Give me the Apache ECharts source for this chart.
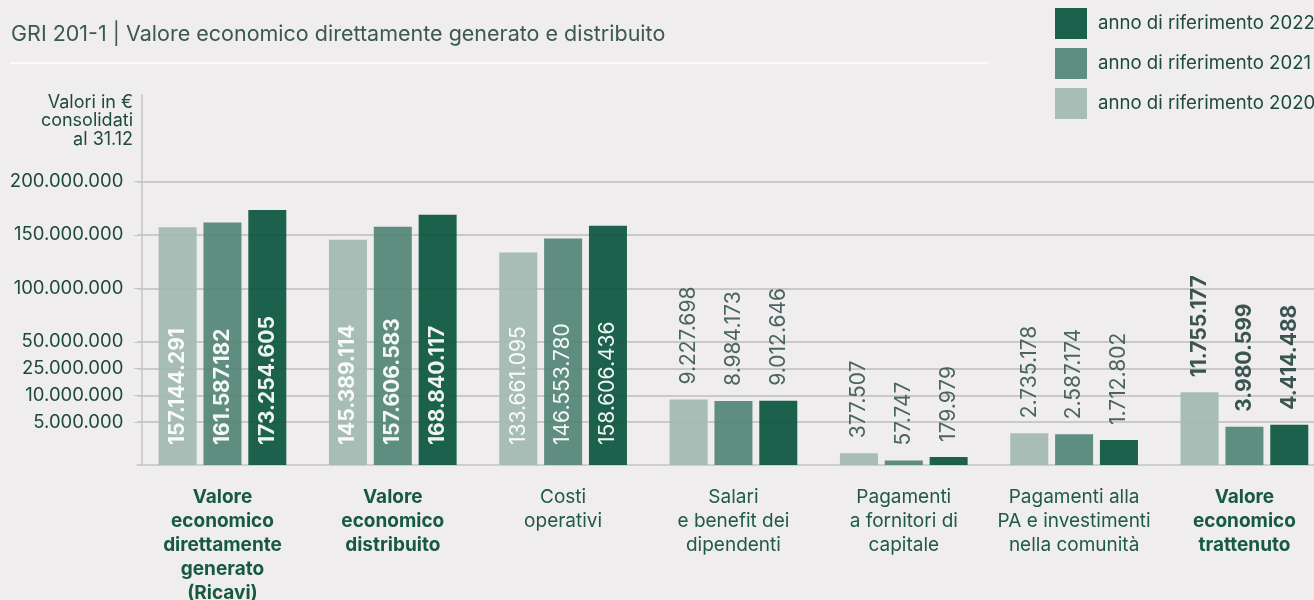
<!DOCTYPE html>
<html lang="it">
<head>
    <meta charset="UTF-8">
    <title>GRI 201-1</title>
    <script type="text/javascript" src="https://cdn.jsdelivr.net/npm/echarts@6/dist/echarts.min.js"></script>
    <style>
        html, body { margin: 0; padding: 0; background: #efedee; }
    </style>
</head>
<body>
<div id="chart" style="width: 1314px;height: 600px"></div>
<script type="text/javascript">
    // dati
    var categories = [
        'Valore\neconomico\ndirettamente\ngenerato\n(Ricavi)',
        'Valore\neconomico\ndistribuito',
        'Costi\noperativi',
        'Salari\ne benefit dei\ndipendenti',
        'Pagamenti\na fornitori di\ncapitale',
        'Pagamenti alla\nPA e investimenti\nnella comunità',
        'Valore\neconomico\ntrattenuto'
    ];
    var boldCategories = [0, 1, 6];
    var years = ['anno di riferimento 2020', 'anno di riferimento 2021', 'anno di riferimento 2022'];
    var values2020 = [157144291, 145389114, 133661095, 9227698, 377507, 2735178, 11755177];
    var values2021 = [161587182, 157606583, 146553780, 8984173, 57747, 2587174, 3980599];
    var values2022 = [173254605, 168840117, 158606436, 9012646, 179979, 1712802, 4414488];
    var tickValues = [5000000, 10000000, 25000000, 50000000, 100000000, 150000000, 200000000];

    // scala a tratti del grafico originale (posizione delle tacche, in "gradini")
    var tickSlots = [1.6, 2.6, 3.6, 4.6, 6.6, 8.6, 10.6];
    function toSlot(v) {
        if (v <= tickValues[0]) return tickSlots[0] * Math.sqrt(v / tickValues[0]);
        for (var i = 1; i < tickValues.length; i++) {
            if (v <= tickValues[i] || i === tickValues.length - 1) {
                var t = (v - tickValues[i - 1]) / (tickValues[i] - tickValues[i - 1]);
                return tickSlots[i - 1] + t * (tickSlots[i] - tickSlots[i - 1]);
            }
        }
    }
    function fmt(n) {
        return String(n).replace(/\B(?=(\d{3})+(?!\d))/g, '.');
    }

    var allValues = [values2020, values2021, values2022];
    var colors = ['#a3b9b1', '#548777', '#0b563f'];

    function labelFor(catIdx) {
        var bold = boldCategories.indexOf(catIdx) >= 0;
        if (catIdx <= 2) {
            return {
                show: true, position: 'insideBottom', distance: 20, rotate: 90,
                align: 'left', verticalAlign: 'middle', color: '#ffffff',
                fontFamily: 'Inter', fontSize: 21,
                fontWeight: bold ? 'bold' : 'normal'
            };
        }
        return {
            show: true, position: 'top', distance: 15, rotate: 90,
            align: 'left', verticalAlign: 'middle',
            color: bold ? '#2c4944' : '#3d5a56',
            fontFamily: 'Inter', fontSize: 21,
            fontWeight: bold ? 'bold' : 'normal'
        };
    }

    var series = [];
    for (var s = 0; s < 3; s++) {
        var data = [];
        for (var c = 0; c < categories.length; c++) {
            data.push({ value: toSlot(allValues[s][c]), label: labelFor(c) });
        }
        series.push({
            name: years[s],
            type: 'bar',
            barWidth: 38,
            barGap: '18%',
            itemStyle: { color: colors[s], opacity: 0.93 },
            label: {
                formatter: function (p) {
                    return fmt(allValues[p.seriesIndex][p.dataIndex]);
                }
            },
            data: data
        });
    }

    var chartDom = document.getElementById('chart');
    var myChart = echarts.init(chartDom);
    var option = {
        backgroundColor: '#efedee',
        animation: false,
        textStyle: { fontFamily: 'Inter' },
        color: colors,
        graphic: [
            {
                type: 'text', left: 11, top: 24,
                style: {
                    text: 'GRI 201-1 | Valore economico direttamente generato e distribuito',
                    fill: '#3b5853', font: '21.5px Inter'
                }
            },
            {
                type: 'line',
                shape: { x1: 10, y1: 63, x2: 988, y2: 63 },
                style: { stroke: '#fbfafa', lineWidth: 2 }
            },
            {
                type: 'text', x: 133, y: 93,
                style: {
                    text: 'Valori in €\nconsolidati\nal 31.12',
                    fill: '#1d4a3c', font: '18px Inter', align: 'right', lineHeight: 18.5
                }
            }
        ],
        legend: {
            orient: 'vertical',
            left: 1050,
            top: 3,
            itemWidth: 32,
            itemHeight: 31,
            itemGap: 9,
            icon: 'rect',
            data: [years[2], years[1], years[0]],
            itemStyle: { opacity: 0.93 },
            textStyle: { color: '#1d4a3c', fontSize: 18.6, fontFamily: 'Inter', padding: [0, 0, 0, 6] }
        },
        grid: {
            left: 137.3,
            right: -15.6,
            top: 95,
            bottom: 135,
            outerBoundsMode: 'none'
        },
        xAxis: {
            type: 'category',
            data: categories,
            axisTick: { show: false },
            axisLine: { lineStyle: { color: '#c4c4c4', width: 1.5 } },
            axisLabel: {
                interval: 0,
                margin: 20,
                lineHeight: 24,
                fontSize: 19,
                color: '#1f5a46',
                formatter: function (value, idx) {
                    if (boldCategories.indexOf(idx) >= 0) {
                        return value.split('\n').map(function (l) { return '{b|' + l + '}'; }).join('\n');
                    }
                    return value;
                },
                rich: {
                    b: { fontWeight: 'bold', fontSize: 19, lineHeight: 24, color: '#175a40', fontFamily: 'Inter' }
                }
            }
        },
        yAxis: {
            type: 'value',
            min: 0,
            max: 13.83,
            offset: -4,
            axisLine: { show: true, lineStyle: { color: '#c4c4c4', width: 1.5 } },
            axisTick: { show: true, length: 7, customValues: tickSlots, lineStyle: { color: '#c4c4c4' } },
            splitLine: { show: true, lineStyle: { color: '#bdbdbd', width: 1.5 } },
            axisLabel: {
                customValues: tickSlots,
                margin: 18,
                fontSize: 18.5,
                color: '#1d4a3c',
                formatter: function (v) {
                    for (var i = 0; i < tickSlots.length; i++) {
                        if (Math.abs(tickSlots[i] - v) < 1e-6) return fmt(tickValues[i]);
                    }
                    return '';
                }
            }
        },
        series: series
    };
    option && myChart.setOption(option);
</script>
</body>
</html>
